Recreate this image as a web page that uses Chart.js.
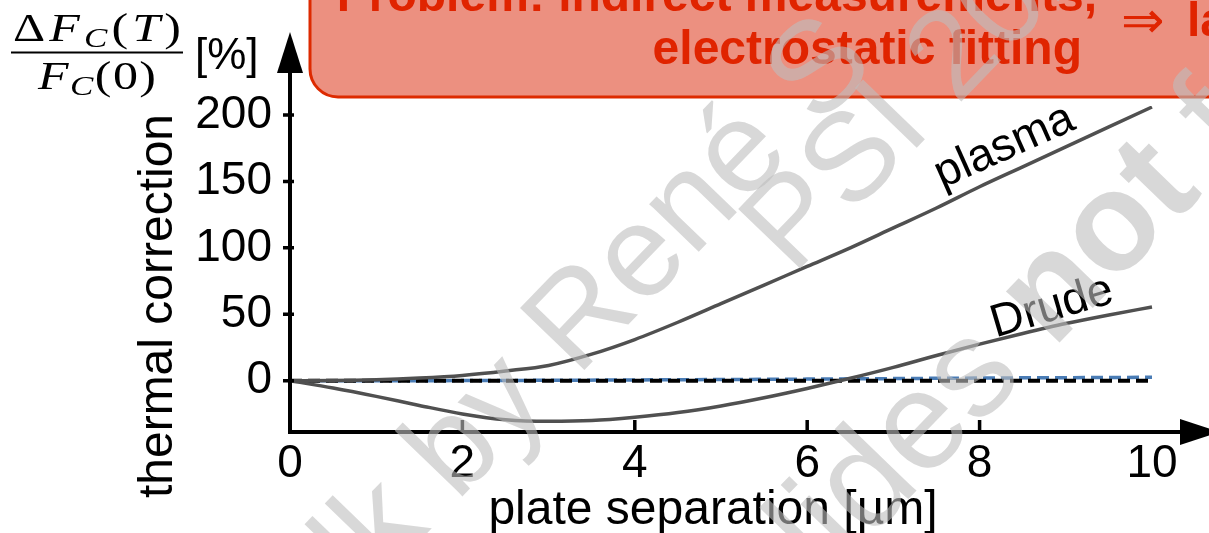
<!DOCTYPE html>
<html>
<head>
<meta charset="utf-8">
<script src="https://cdn.jsdelivr.net/npm/chart.js@4.4.1/dist/chart.umd.min.js"></script>
<style>
  html, body { margin: 0; padding: 0; background: #fff; }
  #wrap { width: 1209px; height: 533px; position: relative; }
</style>
</head>
<body>
<div id="wrap"><canvas id="c" width="1209" height="533"></canvas></div>
<script>
// plate separation in µm and thermal correction in %
const separation = [0, 0.5, 1, 1.5, 2, 2.5, 3, 3.5, 4, 4.5, 5, 5.5, 6, 6.5, 7, 7.5, 8, 8.5, 9, 9.5, 10];
const plasma = [0, 0.1, 0.7, 2, 4, 7.3, 11.5, 20, 31, 44, 58, 72, 86, 100, 115, 130, 146, 161, 176, 191, 206];
const drude = [0, -5.5, -11.8, -18.6, -25, -29.4, -30.6, -30, -27.5, -24, -19, -12.8, -5.8, 1.8, 10, 19, 27.5, 35.5, 43, 49.5, 55.5];
const measuredSep = [0, 1, 2, 3, 4, 5, 6, 7, 8, 9, 10];
const measured = [0, 0, 0.1, 0.3, 0.6, 0.9, 1.2, 1.6, 2.0, 2.3, 2.6];
const zeroSep = [0, 10];
const zeroLine = [0, 0];
const xTicks = [0, 2, 4, 6, 8, 10];
const yTicks = [0, 50, 100, 150, 200];

const pts = (xs, ys) => xs.map((v, i) => ({ x: v, y: ys[i] }));
const SANS = '"Liberation Sans", Arial, sans-serif';

function drawMath(ctx, pieces, x0, baseline, width, stretch) {
  // wide serif glyphs laid out left to right, spare room spread between them
  const fontOf = p => `${p.style || ''} ${p.size}px "Liberation Serif", serif`;
  const w = pieces.map(p => { ctx.font = fontOf(p); return ctx.measureText(p.t).width * stretch; });
  const total = w.reduce((s, v) => s + v, 0);
  const gap = Math.max(0, (width - total) / (pieces.length - 1));
  let cx = x0;
  pieces.forEach((p, i) => {
    ctx.save();
    ctx.translate(cx, baseline + (p.dy || 0));
    ctx.scale(stretch, 1);
    ctx.font = fontOf(p);
    ctx.fillText(p.t, 0, 0);
    ctx.restore();
    cx += w[i] + gap;
  });
}

function drawRotatedLine(ctx, segs, x, y, size, angle) {
  ctx.save();
  ctx.translate(x, y);
  ctx.rotate(angle);
  ctx.textAlign = 'left';
  ctx.textBaseline = 'alphabetic';
  let cx = 0;
  segs.forEach(s => {
    ctx.font = `${s.bold ? 'bold ' : ''}${size}px ${SANS}`;
    ctx.fillText(s.t, cx, 0);
    cx += ctx.measureText(s.t).width;
  });
  ctx.restore();
}

const decor = {
  id: 'decor',
  afterDraw(chart) {
    const { ctx, chartArea: a, scales } = chart;
    const xs = scales.x, ys = scales.y;
    ctx.save();

    // axes with arrow heads
    ctx.strokeStyle = '#000';
    ctx.fillStyle = '#000';
    ctx.lineWidth = 4;
    ctx.beginPath();
    ctx.moveTo(a.left, a.bottom + 2);
    ctx.lineTo(a.left, a.top);
    ctx.moveTo(a.left - 2, a.bottom);
    ctx.lineTo(a.right, a.bottom);
    ctx.stroke();
    ctx.beginPath();
    ctx.moveTo(a.left - 13, a.top);
    ctx.lineTo(a.left + 13, a.top);
    ctx.lineTo(a.left, a.top - 41);
    ctx.closePath();
    ctx.fill();
    ctx.beginPath();
    ctx.moveTo(a.right, a.bottom - 13);
    ctx.lineTo(a.right, a.bottom + 13);
    ctx.lineTo(a.right + 40, a.bottom);
    ctx.closePath();
    ctx.fill();

    // tick marks
    ctx.lineWidth = 3.5;
    ctx.beginPath();
    yTicks.forEach(v => {
      const py = ys.getPixelForValue(v);
      ctx.moveTo(a.left - 7, py);
      ctx.lineTo(a.left + 4, py);
    });
    xTicks.filter(v => v > 0 && v < 10).forEach(v => {
      const px = xs.getPixelForValue(v);
      ctx.moveTo(px, a.bottom);
      ctx.lineTo(px, a.bottom - 12);
    });
    ctx.stroke();

    // axis titles
    ctx.fillStyle = '#000';
    ctx.font = `48px ${SANS}`;
    ctx.textAlign = 'center';
    ctx.textBaseline = 'alphabetic';
    ctx.fillText('plate separation [µm]', 713, 524);
    ctx.save();
    ctx.translate(172, 306);
    ctx.rotate(-Math.PI / 2);
    ctx.fillText('thermal correction', 0, 0);
    ctx.restore();

    // quantity on the vertical axis
    ctx.textAlign = 'left';
    drawMath(ctx, [
      { t: 'Δ', size: 40 },
      { t: 'F', style: 'italic', size: 40 },
      { t: 'C', style: 'italic', size: 28, dy: 6 },
      { t: '(', size: 40 },
      { t: 'T', style: 'italic', size: 40 },
      { t: ')', size: 40 }
    ], 13, 41, 168, 1.25);
    drawMath(ctx, [
      { t: 'F', style: 'italic', size: 40 },
      { t: 'C', style: 'italic', size: 28, dy: 6 },
      { t: '(', size: 40 },
      { t: '0', size: 40 },
      { t: ')', size: 40 }
    ], 38, 89, 118, 1.25);
    ctx.fillRect(11, 51.5, 172, 2);
    ctx.font = `44px ${SANS}`;
    ctx.fillText('[%]', 195, 69);

    // curve names
    const label = (txt, xv, yv, ang) => {
      ctx.save();
      ctx.translate(xs.getPixelForValue(xv), ys.getPixelForValue(yv));
      ctx.rotate(ang * Math.PI / 180);
      ctx.font = `46px ${SANS}`;
      ctx.textAlign = 'center';
      ctx.textBaseline = 'middle';
      ctx.fillStyle = '#000';
      ctx.fillText(txt, 0, 0);
      ctx.restore();
    };
    label('plasma', 8.29, 176, -24);
    label('Drude', 8.84, 55, -16.5);

    // highlighted remark
    ctx.beginPath();
    ctx.roundRect(310, -80, 1000, 177, 28);
    ctx.fillStyle = '#ec9080';
    ctx.fill();
    ctx.lineWidth = 3;
    ctx.strokeStyle = '#dd2a00';
    ctx.stroke();
    ctx.fillStyle = '#e02400';
    ctx.font = `bold 48px ${SANS}`;
    ctx.textAlign = 'right';
    ctx.fillText('Problem: indirect measurements,', 1097, 11);
    ctx.fillText('electrostatic fitting', 1082, 64);
    ctx.textAlign = 'left';
    ctx.font = '52px "DejaVu Sans", sans-serif';
    ctx.fillText('⇒', 1121, 38);
    ctx.font = `bold 48px ${SANS}`;
    ctx.fillText('la', 1187, 36);

    // watermark
    ctx.fillStyle = 'rgba(190,190,190,0.6)';
    const ang = -46 * Math.PI / 180;
    drawRotatedLine(ctx, [{ t: 'talk by René S' }], 291, 674, 130, ang);
    drawRotatedLine(ctx, [{ t: 'PSI 2022' }], 793, 276, 125, ang);
    drawRotatedLine(ctx, [{ t: 'slides ' }, { t: 'not', bold: true }, { t: ' for distribution' }], 777, 635, 140, ang);

    ctx.restore();
  }
};

new Chart(document.getElementById('c'), {
  type: 'line',
  data: {
    datasets: [
      { data: pts(separation, plasma), borderColor: '#505050', borderWidth: 3.5, pointRadius: 0, cubicInterpolationMode: 'monotone' },
      { data: pts(separation, drude), borderColor: '#505050', borderWidth: 3.5, pointRadius: 0, cubicInterpolationMode: 'monotone' },
      { data: pts(zeroSep, zeroLine), borderColor: '#000', borderWidth: 4, borderDash: [12, 6], pointRadius: 0 },
      { data: pts(measuredSep, measured), borderColor: '#4a7cb5', borderWidth: 3.5, borderDash: [12, 6], borderDashOffset: 9, pointRadius: 0, cubicInterpolationMode: 'monotone' }
    ]
  },
  options: {
    responsive: false,
    devicePixelRatio: 1,
    animation: false,
    layout: { padding: { left: 125, top: 73, right: 29, bottom: 0 } },
    plugins: { legend: { display: false }, tooltip: { enabled: false } },
    scales: {
      x: {
        type: 'linear', min: 0, max: 10.325,
        afterBuildTicks: s => { s.ticks = xTicks.map(v => ({ value: v })); },
        afterFit: s => { s.height = 101; },
        grid: { display: false, drawTicks: false },
        border: { display: false },
        ticks: { autoSkip: false, maxRotation: 0, padding: 5, color: '#000', font: { family: 'Liberation Sans', size: 46 } }
      },
      y: {
        type: 'linear', min: -38.6, max: 231.6,
        afterBuildTicks: s => { s.ticks = yTicks.map(v => ({ value: v })); },
        afterFit: s => { s.width = 165; },
        grid: { display: false, drawTicks: false },
        border: { display: false },
        ticks: { autoSkip: false, padding: 18, color: '#000', font: { family: 'Liberation Sans', size: 46 } }
      }
    }
  },
  plugins: [decor]
});
</script>
</body>
</html>
